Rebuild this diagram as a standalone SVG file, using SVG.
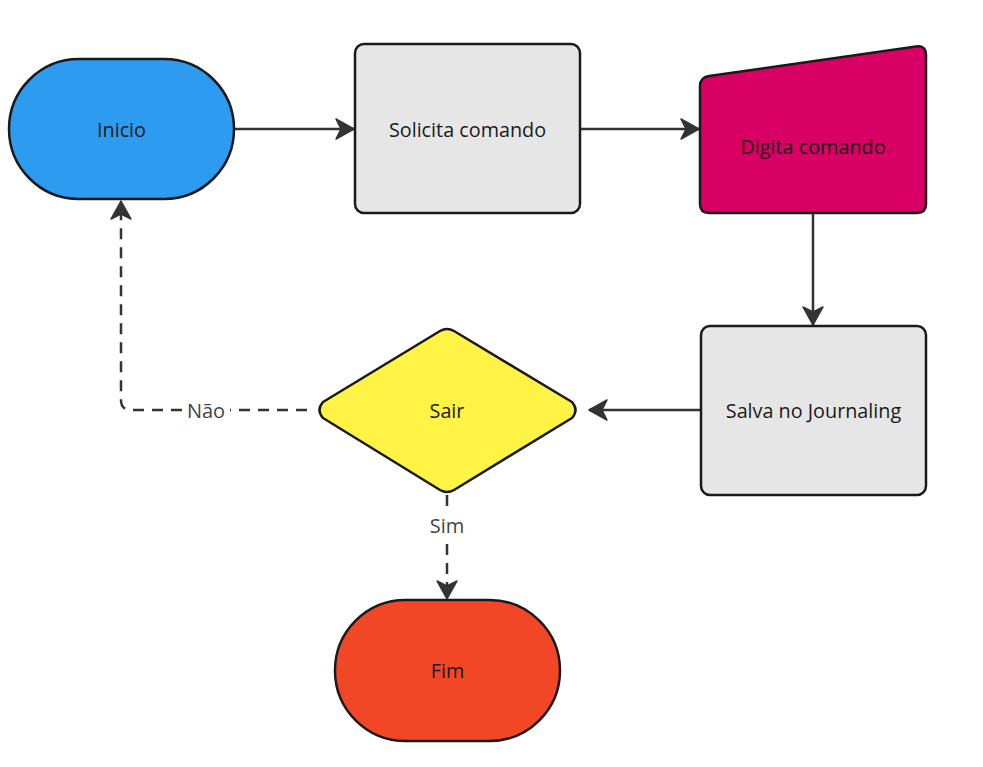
<svg xmlns="http://www.w3.org/2000/svg" width="983" height="767" viewBox="0 0 983 767">
<style>
.node{stroke:#1a1a1a;stroke-width:2.5;stroke-linejoin:round}
.t{font-family:"Open Sans","Noto Sans",sans-serif;font-size:19.8px;fill:#1a1a1a;text-anchor:middle;dominant-baseline:central}
.lbl{font-family:"Open Sans","Noto Sans",sans-serif;font-size:20px;fill:#444;text-anchor:middle;dominant-baseline:central}
.c{fill:none;stroke:#333;stroke-width:2.5}
.d{stroke-dasharray:11 8}
</style>
<defs>
<marker id="ah" markerUnits="userSpaceOnUse" markerWidth="24" markerHeight="24" viewBox="-20 -12 22 24" refX="0" refY="0" orient="auto">
<path d="M0,0 L-18,-10 L-13,0 L-18,10 Z" fill="#333" stroke="#333" stroke-width="1.5" stroke-linejoin="round"/>
</marker>
</defs>
<rect width="983" height="767" fill="#fff"/>
<g id="connectors">
<path class="c" d="M234,129 H354" marker-end="url(#ah)"/>
<path class="c" d="M580,129 H699" marker-end="url(#ah)"/>
<path class="c" d="M813,213 V325" marker-end="url(#ah)"/>
<path class="c" d="M701,410 H589" marker-end="url(#ah)"/>
<path class="c d" d="M307,410 H230 M182,410 H131 Q121,410 121,400 V201" marker-end="url(#ah)"/>
<path class="c d" d="M447,495 V508 M447,544 V599" marker-end="url(#ah)"/>
<text class="lbl" x="206" y="410">Não</text>
<text class="lbl" x="447" y="525">Sim</text>
</g>
<g id="inicio">
<rect class="node" x="9" y="59" width="225" height="140" rx="70" fill="#2d9bf0"/>
<text class="t" x="121.5" y="129">Inicio</text>
</g>
<g id="solicita">
<rect class="node" x="355" y="44" width="225" height="169" rx="9" fill="#e6e6e6"/>
<text class="t" x="467.5" y="129">Solicita comando</text>
</g>
<g id="digita">
<path class="node" d="M709,76 L916,46.5 Q926,45 926,55 V204 Q926,213 917,213 H709 Q700,213 700,204 V86 Q700,77.5 709,76 Z" fill="#d80064"/>
<text class="t" x="813" y="146">Digita comando</text>
</g>
<g id="salva">
<rect class="node" x="701" y="326" width="225" height="169" rx="9" fill="#e6e6e6"/>
<text class="t" x="813.5" y="410">Salva no Journaling</text>
</g>
<g id="sair">
<path class="node" d="M440,331 Q447,327 454,331 L572,402 Q579,410 572,418 L454,490 Q447,494 440,490 L323,418 Q316,410 323,402 Z" fill="#fff345"/>
<text class="t" x="447" y="410">Sair</text>
</g>
<g id="fim">
<rect class="node" x="335" y="600" width="225" height="141" rx="70.5" fill="#f24727"/>
<text class="t" x="447.5" y="670.5">Fim</text>
</g>
</svg>
